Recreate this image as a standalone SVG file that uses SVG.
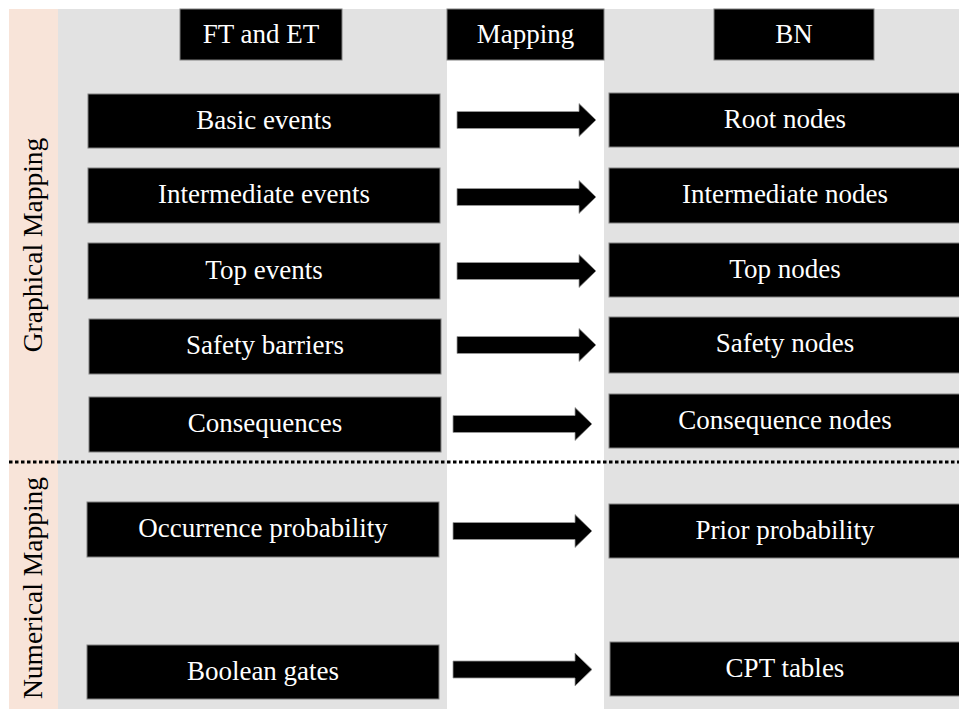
<svg xmlns="http://www.w3.org/2000/svg" width="959" height="709" viewBox="0 0 959 709" font-family="Liberation Serif, Tinos, Times New Roman, DejaVu Serif, serif">
  <style>
    .box { fill: #000; stroke: #808080; stroke-width: 1; }
    .lbl { fill: #fff; font-size: 27px; text-anchor: middle; }
    .side { fill: #000; font-size: 27.5px; text-anchor: middle; }
    .arrow { fill: #000; stroke: #9a9a9a; stroke-width: 0.8; }
  </style>
  <defs>
    <!-- block arrow: shaft 17 high, head 33 high, total length ~139 -->
    <path id="blockArrow" d="M0,-8.5 H122 V-16.5 L139,0 L122,16.5 V8.5 H0 Z"/>
  </defs>

  <!-- background panels -->
  <g id="background">
    <rect x="0" y="0" width="959" height="709" fill="#ffffff"/>
    <rect x="9" y="9" width="49" height="700" fill="#f8e4d9"/>
    <rect x="58" y="9" width="389" height="700" fill="#e2e2e2"/>
    <rect x="447" y="9" width="157" height="700" fill="#ffffff"/>
    <rect x="604" y="9" width="355" height="700" fill="#e2e2e2"/>
    <line x1="9" y1="462" x2="959" y2="462" stroke="#000" stroke-width="3" stroke-dasharray="3.5 2.5"/>
  </g>

  <!-- section labels -->
  <g id="section-labels">
    <text class="side" transform="translate(42,245) rotate(-90)">Graphical Mapping</text>
    <text class="side" transform="translate(42,588) rotate(-90)">Numerical Mapping</text>
  </g>

  <!-- column headers -->
  <g id="hdr-ft-et"><rect class="box" x="180" y="9" width="162" height="51"/><text class="lbl" x="261" y="43">FT and ET</text></g>
  <g id="hdr-mapping"><rect class="box" x="447" y="9" width="157" height="51"/><text class="lbl" x="525.5" y="43">Mapping</text></g>
  <g id="hdr-bn"><rect class="box" x="714" y="9" width="160" height="51"/><text class="lbl" x="794" y="43">BN</text></g>

  <!-- FT / ET side -->
  <g id="basic-events"><rect class="box" x="88" y="94" width="352" height="54"/><text class="lbl" x="264" y="129">Basic events</text></g>
  <g id="intermediate-events"><rect class="box" x="88" y="168" width="352" height="55"/><text class="lbl" x="264" y="203">Intermediate events</text></g>
  <g id="top-events"><rect class="box" x="88" y="243" width="352" height="56"/><text class="lbl" x="264" y="279">Top events</text></g>
  <g id="safety-barriers"><rect class="box" x="89" y="319" width="352" height="55"/><text class="lbl" x="265" y="354">Safety barriers</text></g>
  <g id="consequences"><rect class="box" x="89" y="397" width="352" height="55"/><text class="lbl" x="265" y="432">Consequences</text></g>
  <g id="occurrence-probability"><rect class="box" x="87" y="502" width="352" height="55"/><text class="lbl" x="263" y="537">Occurrence probability</text></g>
  <g id="boolean-gates"><rect class="box" x="87" y="645" width="352" height="54"/><text class="lbl" x="263" y="680">Boolean gates</text></g>

  <!-- BN side -->
  <g id="root-nodes"><rect class="box" x="609" y="93" width="352" height="54"/><text class="lbl" x="785" y="128">Root nodes</text></g>
  <g id="intermediate-nodes"><rect class="box" x="609" y="168" width="352" height="55"/><text class="lbl" x="785" y="203">Intermediate nodes</text></g>
  <g id="top-nodes"><rect class="box" x="609" y="243" width="352" height="54"/><text class="lbl" x="785" y="278">Top nodes</text></g>
  <g id="safety-nodes"><rect class="box" x="609" y="317" width="352" height="56"/><text class="lbl" x="785" y="352">Safety nodes</text></g>
  <g id="consequence-nodes"><rect class="box" x="609" y="394" width="352" height="54"/><text class="lbl" x="785" y="429">Consequence nodes</text></g>
  <g id="prior-probability"><rect class="box" x="609" y="504" width="352" height="54"/><text class="lbl" x="785" y="539">Prior probability</text></g>
  <g id="cpt-tables"><rect class="box" x="610" y="642" width="352" height="54"/><text class="lbl" x="785" y="677">CPT tables</text></g>

  <!-- mapping arrows -->
  <g id="connectors">
    <use href="#blockArrow" class="arrow" transform="translate(457,120)"/>
    <use href="#blockArrow" class="arrow" transform="translate(457,197)"/>
    <use href="#blockArrow" class="arrow" transform="translate(457,271)"/>
    <use href="#blockArrow" class="arrow" transform="translate(457,345)"/>
    <use href="#blockArrow" class="arrow" transform="translate(453,424)"/>
    <use href="#blockArrow" class="arrow" transform="translate(453,531)"/>
    <use href="#blockArrow" class="arrow" transform="translate(453,669.5)"/>
  </g>
</svg>
